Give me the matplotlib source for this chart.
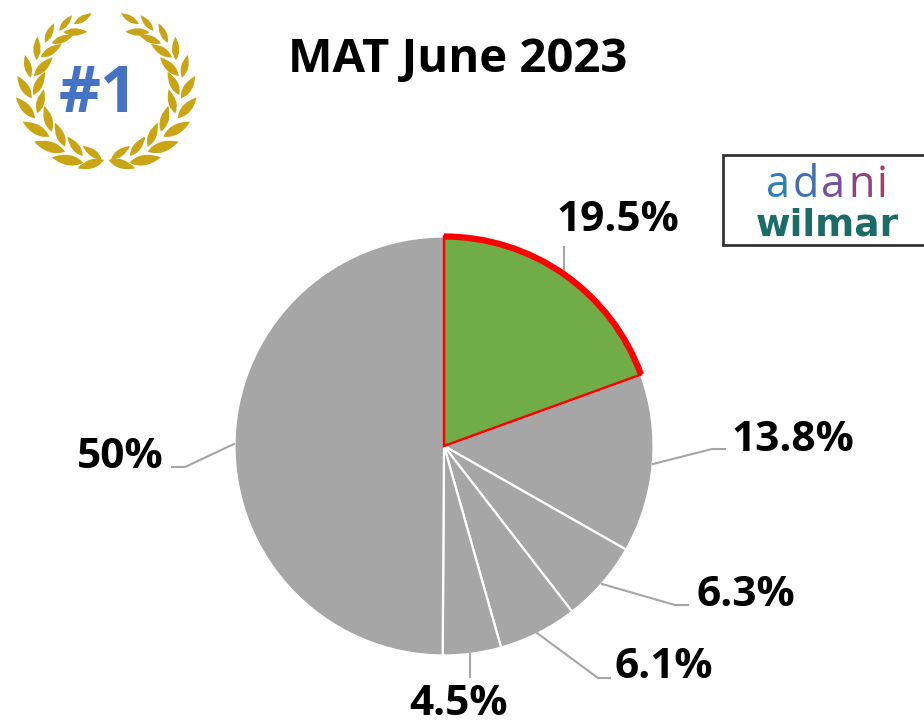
import numpy as np
import matplotlib
matplotlib.use("Agg")
import matplotlib.pyplot as plt
from matplotlib.patches import Arc, PathPatch, Rectangle
from matplotlib.path import Path

W, H = 924, 720
title = "MAT June 2023"
shares = [19.5, 13.8, 6.3, 6.1, 4.5, 50]
share_labels = ["19.5%", "13.8%", "6.3%", "6.1%", "4.5%", "50%"]
slice_colors = ["#70AD47", "#A6A6A6", "#A6A6A6", "#A6A6A6", "#A6A6A6", "#A6A6A6"]
label_pos = [(618, 231), (793, 451), (746, 606), (664, 678), (459, 715), (120, 468)]
leaders = [
    [(564, 273), (564, 247)],
    [(653, 464), (712, 449), (725, 449)],
    [(602, 584), (675, 605), (688, 605)],
    [(537, 633), (598, 678), (610, 678)],
    [(470, 654), (470, 677)],
    [(234, 444), (185, 467), (172, 467)],
]
leaves = [
    ((222, 72), (275, 40)), ((178, 92), (216, 46)), ((135, 128), (162, 70)),
    ((110, 180), (112, 110)), ((92, 233), (75, 165)), ((95, 295), (52, 228)),
    ((105, 355), (48, 292)), ((148, 410), (68, 365)), ((195, 455), (102, 425)),
    ((250, 488), (155, 472)), ((312, 480), (232, 505)), ((190, 97), (262, 95)),
    ((155, 130), (220, 105)), ((122, 172), (185, 132)), ((102, 228), (158, 172)),
    ((100, 285), (135, 215)), ((112, 340), (132, 268)), ((155, 395), (133, 318)),
    ((195, 440), (165, 368)), ((248, 468), (202, 410)), ((305, 478), (248, 438)),
]
adani_letters = list("adani")
adani_colors = ["#2E7FB8", "#3F6FB5", "#7A4FA0", "#94407F", "#A93A62"]

fig = plt.figure(figsize=(W / 100, H / 100), dpi=100, facecolor="white")
ax = fig.add_axes([0, 0, 1, 1])


def flip(p):
    return (p[0], H - p[1])


CX, CY, R = 444, 446, 209.5
wedges, _ = ax.pie(shares, colors=slice_colors, startangle=90, counterclock=False,
                   center=flip((CX, CY)), radius=R, frame=True,
                   wedgeprops=dict(edgecolor="white", linewidth=1.6))
ax.set_xlim(0, W)
ax.set_ylim(0, H)
ax.set_aspect("equal")
ax.axis("off")
wedges[0].set_edgecolor("#FF0000")
wedges[0].set_zorder(3)
wedges[0].set_linewidth(1.8)
ax.add_patch(Arc(flip((CX, CY)), 2 * R, 2 * R, theta1=wedges[0].theta1, theta2=wedges[0].theta2,
                 color="#FF0000", lw=4.5, zorder=4))

for pts in leaders:
    xs, ys = zip(*[flip(p) for p in pts])
    ax.plot(xs, ys, color="#A6A6A6", lw=1.5, zorder=1, solid_joinstyle="miter")

for txt, pos in zip(share_labels, label_pos):
    ax.text(*flip(pos), txt, family="Open Sans", fontweight="bold", fontsize=30.5,
            color="black", ha="center", va="baseline")

ax.text(*flip((458, 72)), title, family="Open Sans", fontweight="bold", fontsize=34,
        color="black", ha="center", va="baseline")


def add_leaf(a, b, mirror):
    a = np.array(a, float) / 3
    b = np.array(b, float) / 3
    if mirror:
        cx = 319 / 3
        a[0] = 2 * cx - a[0]
        b[0] = 2 * cx - b[0]
    a2, b2 = np.array(flip(a)), np.array(flip(b))
    d = b2 - a2
    n = np.array([-d[1], d[0]]) * 0.32
    mid = a2 + d * 0.42
    path = Path([a2, mid + n, b2, mid - n, a2],
                [Path.MOVETO, Path.CURVE3, Path.CURVE3, Path.CURVE3, Path.CURVE3])
    ax.add_patch(PathPatch(path, facecolor="#C9A514", edgecolor="none", zorder=2))


for a, b in leaves:
    add_leaf(a, b, False)
    add_leaf(a, b, True)

ax.text(*flip((98, 112)), "#1", family="Open Sans", fontweight="bold", fontsize=47,
        color="#4472C4", ha="center", va="baseline")

ax.add_patch(Rectangle(flip((723, 245)), 240, 90, facecolor="white", edgecolor="#333333",
                       lw=2, zorder=2))
renderer = fig.canvas.get_renderer()
x = 766
for ch, col in zip(adani_letters, adani_colors):
    t = ax.text(x, H - 197, ch, family="Open Sans", fontsize=31, color=col, ha="left",
                va="baseline", zorder=3)
    x += t.get_window_extent(renderer).width + 2.5
ax.text(*flip((827, 235)), "wilmar", family="DejaVu Sans", fontweight="bold", fontsize=27,
        color="#1B6B66", ha="center", va="baseline", zorder=3)

fig.savefig("out.png", dpi=100, facecolor="white")
